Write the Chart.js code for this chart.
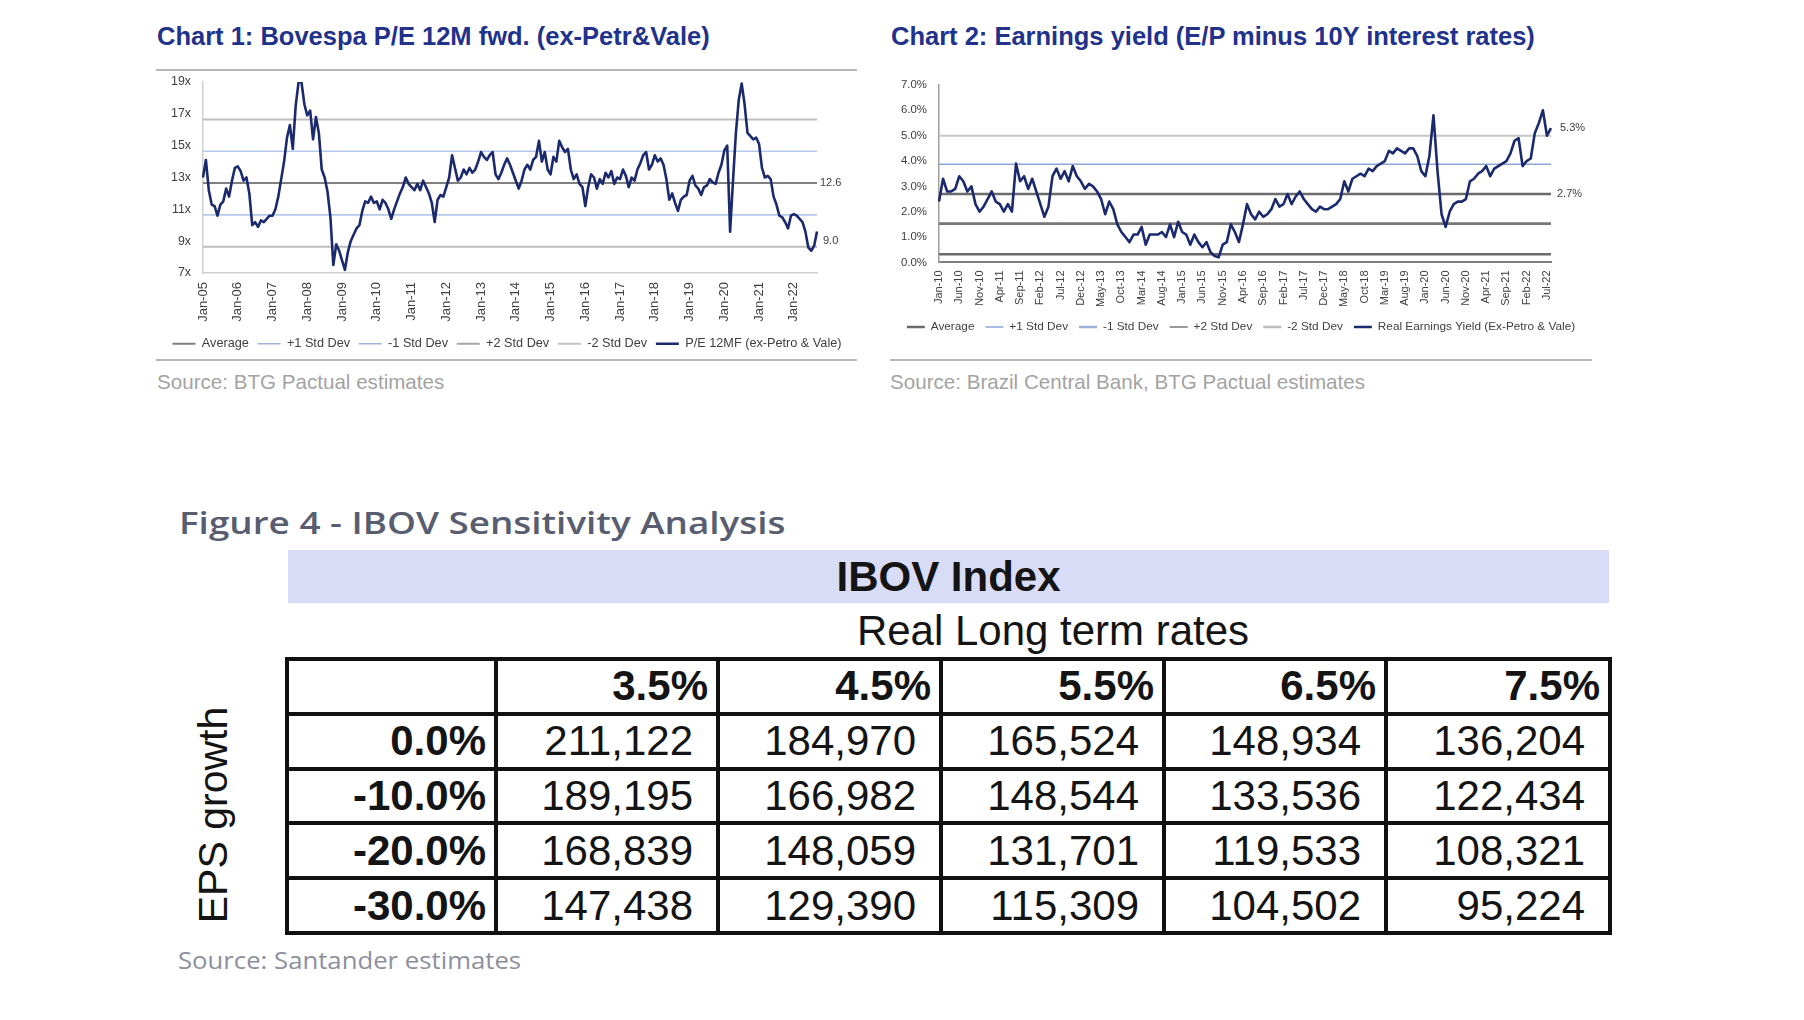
<!DOCTYPE html>
<html><head><meta charset="utf-8">
<script src="https://cdn.jsdelivr.net/npm/chart.js@4.4.1/dist/chart.umd.min.js"></script>
<style>
html,body{margin:0;padding:0;background:#fff;}
body{width:1804px;height:1020px;position:relative;overflow:hidden;font-family:"Liberation Sans",Arial,sans-serif;}
.abs{position:absolute;white-space:nowrap;}
.ctitle{font-weight:bold;font-size:25.5px;line-height:25.5px;color:#22328a;top:24.4px;}
.src{font-size:20.6px;line-height:20.6px;color:#a3a3a3;top:371.6px;}
.sep{position:absolute;height:2px;background:#b8b8b8;}
canvas{position:absolute;}
#fig4{left:178.6px;top:508px;font-family:"Open Sans",sans-serif;font-weight:600;font-size:30.4px;line-height:30.4px;color:#585d70;transform-origin:0 0;}
#src3{left:178.3px;top:949.2px;font-family:"Open Sans",sans-serif;font-weight:400;font-size:23.4px;line-height:23.4px;color:#8c8f9c;transform-origin:0 0;}
#bar{position:absolute;left:288px;top:550px;width:1321px;height:53px;background:#d9dcf6;text-align:center;font-weight:bold;font-size:42px;line-height:53px;color:#141414;}
#rlt{position:absolute;left:496px;width:1114px;top:609.5px;text-align:center;font-size:42px;line-height:42px;color:#141414;}
#eps{position:absolute;left:213px;top:815px;transform:translate(-50%,-50%) rotate(-90deg);font-size:41px;line-height:41px;color:#141414;white-space:nowrap;}
#tbl{position:absolute;left:285px;top:657px;background:#111;padding:4px;display:grid;grid-template-columns:205px 218px 219px 219px 218px 220px;grid-auto-rows:50.8px;gap:4px;}
#tbl div{background:#fff;display:flex;align-items:center;justify-content:flex-end;font-size:42px;color:#141414;padding-right:23px;white-space:nowrap;}
#tbl div.h{font-weight:bold;padding-right:8px;}
</style>
</head>
<body>
<div class="abs ctitle" style="left:157px;">Chart 1: Bovespa P/E 12M fwd. (ex-Petr&amp;Vale)</div>
<div class="abs ctitle" style="left:891px;">Chart 2: Earnings yield (E/P minus 10Y interest rates)</div>
<div class="sep" style="left:156px;width:701px;top:69px;"></div>
<div class="sep" style="left:156px;width:701px;top:359px;"></div>
<div class="sep" style="left:890px;width:702px;top:359px;"></div>
<div class="abs src" style="left:157px;">Source: BTG Pactual estimates</div>
<div class="abs src" style="left:890px;">Source: Brazil Central Bank, BTG Pactual estimates</div>
<canvas id="c1" width="702" height="290" style="left:156px;top:74px;"></canvas>
<canvas id="c2" width="702" height="290" style="left:890px;top:74px;"></canvas>

<div id="fig4" class="abs">Figure 4 - IBOV Sensitivity Analysis</div>
<div id="bar">IBOV Index</div>
<div id="rlt">Real Long term rates</div>
<div id="eps">EPS growth</div>
<div id="tbl"></div>
<div id="src3" class="abs">Source: Santander estimates</div>

<script>
// ---------- DATA ----------
const MONTHS = ['Jan','Feb','Mar','Apr','May','Jun','Jul','Aug','Sep','Oct','Nov','Dec'];
// Chart 1: monthly Jan-05 .. Sep-22
const peLabels = [];
for (let y = 2005; y <= 2022; y++) for (let m = 0; m < 12; m++) {
  if (y === 2022 && m > 8) break;
  peLabels.push(MONTHS[m] + '-' + String(y).slice(2));
}
const peValues = [
  13.0,14.1,12.2,11.3,11.2,10.6,11.3,11.5,12.3,11.8,12.8,13.6,
  13.7,13.4,12.8,13.0,12.0,10.0,10.2,9.9,10.3,10.2,10.4,10.6,
  10.6,11.0,11.8,12.9,14.0,15.5,16.3,14.8,17.5,19.0,19.0,17.6,
  16.9,17.2,15.4,16.8,15.8,13.5,13.0,12.1,10.5,7.5,8.8,8.4,
  7.8,7.2,8.3,9.0,9.4,9.8,10.0,10.9,11.5,11.4,11.8,11.4,
  11.5,11.0,11.6,11.4,11.0,10.4,11.0,11.5,12.0,12.4,13.0,12.6,
  12.4,12.2,12.6,12.2,12.8,12.4,12.0,11.4,10.2,11.6,11.9,11.8,
  12.4,13.0,14.4,13.6,12.8,13.0,13.5,13.2,13.6,13.3,13.5,14.0,
  14.6,14.3,14.1,14.4,14.6,13.2,12.9,13.3,13.8,14.2,13.8,13.3,
  12.8,12.3,12.8,13.5,13.8,13.5,14.1,14.3,15.3,14.0,14.6,13.5,
  13.2,14.3,14.0,15.3,14.9,14.6,14.8,13.5,12.9,13.2,12.6,12.4,
  11.2,12.4,13.2,13.0,12.3,12.9,12.6,13.3,13.0,13.4,12.6,13.0,
  12.9,13.5,13.1,12.4,13.0,12.8,13.5,13.9,14.4,14.6,13.5,13.8,
  14.4,14.0,14.2,13.8,12.9,11.6,12.0,11.4,10.9,11.6,11.8,11.9,
  12.8,13.1,12.5,12.3,11.9,12.4,12.5,12.9,12.7,12.6,13.3,13.8,
  14.7,15.0,9.6,12.8,15.8,17.9,18.9,17.6,15.8,15.6,15.4,15.5,
  15.1,13.6,13.0,13.1,12.9,11.8,11.3,10.6,10.5,10.2,9.8,10.6,
  10.7,10.6,10.4,10.2,9.6,8.6,8.4,8.7,9.6
];
const peAvg = 12.65, pePlus1 = 14.65, peMinus1 = 10.65, pePlus2 = 16.65, peMinus2 = 8.65;
const peTicks = [7, 19, 2];           // min, max, step
const peEndLabels = [{text:'12.6', value:12.65, dx:3}, {text:'9.0', value:9.0, dx:6}];

// Chart 2: monthly Jan-10 .. Aug-22
const eyLabels = [];
for (let y = 2010; y <= 2022; y++) for (let m = 0; m < 12; m++) {
  if (y === 2022 && m > 7) break;
  eyLabels.push(MONTHS[m] + '-' + String(y).slice(2));
}
const eyValues = [
  2.4,3.3,2.8,2.8,2.9,3.4,3.2,2.8,3.0,2.3,2.0,2.2,
  2.5,2.8,2.4,2.3,2.0,2.3,2.0,3.9,3.2,3.4,2.9,3.3,
  2.8,2.3,1.8,2.2,3.4,3.7,3.3,3.6,3.2,3.8,3.4,3.2,
  2.9,3.1,3.0,2.8,2.5,1.9,2.4,2.1,1.5,1.2,1.0,0.8,
  1.1,1.1,1.4,0.7,1.1,1.1,1.1,1.2,1.0,1.5,1.0,1.6,
  1.2,1.1,0.7,1.1,0.8,0.6,0.8,0.4,0.25,0.2,0.7,0.8,
  1.5,1.2,0.8,1.5,2.3,1.9,1.7,2.0,1.8,1.9,2.1,2.5,
  2.2,2.3,2.7,2.3,2.6,2.8,2.5,2.3,2.1,2.0,2.2,2.1,
  2.1,2.2,2.3,2.5,3.2,2.8,3.3,3.4,3.5,3.4,3.7,3.6,
  3.8,3.9,4.0,4.4,4.3,4.5,4.4,4.3,4.5,4.5,4.2,3.6,
  3.4,4.2,5.8,3.6,1.9,1.4,2.0,2.3,2.4,2.4,2.5,3.2,
  3.3,3.5,3.6,3.8,3.4,3.7,3.8,3.9,4.0,4.3,4.8,4.9,
  3.8,4.0,4.1,5.1,5.5,6.0,5.0,5.3
];
const eyAvg = 2.7, eyPlus1 = 3.87, eyMinus1 = 1.53, eyPlus2 = 5.0, eyMinus2 = 0.32;
const eyTicks = [0, 7, 1];
const eyEndLabels = [{text:'5.3%', value:5.3, dx:9}, {text:'2.7%', value:2.7, dx:6}];

// Table (Figure 4)
const rateCols = ['3.5%','4.5%','5.5%','6.5%','7.5%'];
const epsRows = ['0.0%','-10.0%','-20.0%','-30.0%'];
const ibovValues = [
  [211122,184970,165524,148934,136204],
  [189195,166982,148544,133536,122434],
  [168839,148059,131701,119533,108321],
  [147438,129390,115309,104502,95224]
];

// ---------- CHARTS ----------
Chart.defaults.font.family = "'Liberation Sans', Arial, sans-serif";
Chart.defaults.color = '#404040';

const endLabelsPlugin = {
  id: 'endLabels',
  afterDatasetsDraw(chart, args, opts) {
    const {ctx, chartArea, scales} = chart;
    ctx.save();
    ctx.font = opts.font; ctx.fillStyle = opts.color; ctx.textBaseline = 'middle'; ctx.textAlign = 'left';
    opts.items.forEach(it => ctx.fillText(it.text, chartArea.right + it.dx, scales.y.getPixelForValue(it.value)));
    ctx.restore();
  }
};

function hline(labels, label, v, color, w, legendColor) {
  return { label, data: [{x: labels[0], y: v}, {x: labels[labels.length - 1], y: v}],
    borderColor: color, borderWidth: w, pointRadius: 0, legendColor, order: 1 };
}

function legendLabels(fs, pw, pad) {
  return {
    font: {size: fs}, color: '#404040', usePointStyle: true, pointStyle: 'line', pointStyleWidth: pw, padding: pad,
    sort: (a, b) => a.datasetIndex - b.datasetIndex,
    generateLabels(chart) {
      const items = Chart.defaults.plugins.legend.labels.generateLabels(chart);
      items.forEach(it => { const c = chart.data.datasets[it.datasetIndex].legendColor; if (c) it.strokeStyle = c; });
      return items;
    }
  };
}

function makeChart(id, cfg) {
  return new Chart(document.getElementById(id), {
    type: 'line',
    data: { labels: cfg.labels, datasets: cfg.datasets },
    plugins: [endLabelsPlugin],
    options: {
      responsive: false, animation: false, events: [],
      layout: { padding: cfg.padding },
      elements: { line: { tension: 0 } },
      plugins: {
        legend: { position: 'bottom', labels: legendLabels(cfg.legendFont, cfg.legendBox, cfg.legendPad) },
        tooltip: { enabled: false },
        endLabels: { items: cfg.endLabels, font: "11px 'Liberation Sans', Arial", color: '#404040' }
      },
      scales: {
        x: {
          type: 'category', offset: false,
          grid: { display: false, drawTicks: false },
          border: { display: true, color: cfg.xBorder, width: cfg.xBorderW },
          ticks: {
            autoSkip: false, maxRotation: 90, minRotation: 90, padding: cfg.xPad,
            font: { size: cfg.xFont }, color: '#404040',
            callback: function (v, i) { const l = this.getLabelForValue(v); return cfg.showTick(l, i) ? l : null; }
          },
          afterFit: s => { s.height = cfg.xHeight; }
        },
        y: {
          min: cfg.ticks[0], max: cfg.ticks[1],
          grid: { display: false, drawTicks: true, tickLength: cfg.yPad },
          border: { display: true, color: cfg.yBorder, width: cfg.yBorderW },
          ticks: { stepSize: cfg.ticks[2], padding: 0, font: { size: cfg.yFont }, color: '#404040', callback: cfg.yFmt },
          afterFit: s => { s.width = cfg.yWidth; }
        },
        yr: {
          position: 'right', display: true,
          grid: { display: false, drawTicks: false }, border: { display: false },
          ticks: { display: false, padding: 0 },
          afterFit: s => { s.width = cfg.rightWidth; }
        }
      }
    }
  });
}

makeChart('c1', {
  labels: peLabels,
  datasets: [
    hline(peLabels, 'Average', peAvg, '#808080', 2, '#7f7f7f'),
    hline(peLabels, '+1 Std Dev', pePlus1, '#b7c9ea', 1.6, '#9fb5df'),
    hline(peLabels, '-1 Std Dev', peMinus1, '#b7c9ea', 1.6, '#9fb5df'),
    hline(peLabels, '+2 Std Dev', pePlus2, '#bdbdbd', 2, '#a6a6a6'),
    hline(peLabels, '-2 Std Dev', peMinus2, '#bdbdbd', 2, '#c4c4c4'),
    { label: 'P/E 12MF (ex-Petro & Vale)', data: peValues, borderColor: '#1b2a6d', borderWidth: 2.6,
      pointRadius: 0, borderJoinStyle: 'round', order: 0 }
  ],
  padding: { top: 8, bottom: 3.85, left: 0, right: 0 },
  legendFont: 12.7, legendBox: 23, legendPad: 8.7,
  endLabels: peEndLabels,
  ticks: peTicks, yFmt: v => v + 'x', yFont: 12.4, yPad: 12, yWidth: 47, rightWidth: 41,
  xFont: 13, xPad: 9, xHeight: 55.75,
  showTick: (l) => l.startsWith('Jan'),
  xBorder: '#d0d0d0', xBorderW: 1.5, yBorder: '#d0d0d0', yBorderW: 1.5
});

makeChart('c2', {
  labels: eyLabels,
  datasets: [
    hline(eyLabels, 'Average', eyAvg, '#6b6b6b', 2.6, '#6b6b6b'),
    hline(eyLabels, '+1 Std Dev', eyPlus1, '#8ea6d4', 1.5, '#8ea6d4'),
    hline(eyLabels, '-1 Std Dev', eyMinus1, '#777777', 2.6, '#9db2da'),
    hline(eyLabels, '+2 Std Dev', eyPlus2, '#c6c6c6', 2, '#9a9a9a'),
    hline(eyLabels, '-2 Std Dev', eyMinus2, '#6b6b6b', 2.6, '#bdbdbd'),
    { label: 'Real Earnings Yield (Ex-Petro & Vale)', data: eyValues, borderColor: '#1b2a6d', borderWidth: 2.6,
      pointRadius: 0, borderJoinStyle: 'round', order: 0 }
  ],
  padding: { top: 11, bottom: 21.15, left: 0, right: 0 },
  legendFont: 11.8, legendBox: 18, legendPad: 11,
  endLabels: eyEndLabels,
  ticks: eyTicks, yFmt: v => v.toFixed(1) + '%', yFont: 11.4, yPad: 12, yWidth: 49, rightWidth: 41,
  xFont: 11, xPad: 8, xHeight: 47.65,
  showTick: (l, i) => i % 5 === 0,
  xBorder: '#808080', xBorderW: 2, yBorder: '#a0a0a0', yBorderW: 1.5
});

// ---------- TABLE ----------
const tbl = document.getElementById('tbl');
function cell(text, cls) { const d = document.createElement('div'); if (cls) d.className = cls; d.textContent = text; tbl.appendChild(d); }
cell('', 'h');
rateCols.forEach(c => cell(c, 'h'));
epsRows.forEach((r, i) => {
  cell(r, 'h');
  ibovValues[i].forEach(v => cell(v.toLocaleString('en-US')));
});

function fitWidth(id, w) { const el = document.getElementById(id); el.style.transform = 'scaleX(' + (w / el.offsetWidth) + ')'; }
fitWidth('fig4', 606); fitWidth('src3', 343);
if (document.fonts && document.fonts.ready) document.fonts.ready.then(() => { fitWidth('fig4', 606); fitWidth('src3', 343); });
</script>
</body></html>
